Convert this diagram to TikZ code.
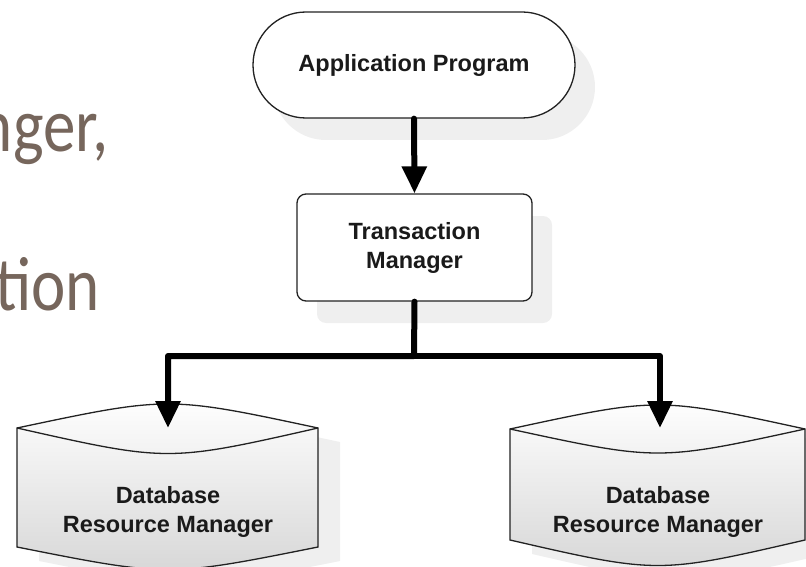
\documentclass[tikz,border=0pt]{standalone}
\usepackage{fontspec}
\setmainfont{Liberation Sans}
\newfontfamily\bgfont{Carlito}
\usetikzlibrary{arrows.meta,shadows}
\definecolor{txt}{HTML}{1A1A1A}
\definecolor{bgtext}{HTML}{76665C}
\definecolor{shadowgray}{HTML}{EFEFEF}
\definecolor{outline}{HTML}{222222}
\begin{document}
\begin{tikzpicture}[x=1pt,y=-1pt,
  lbl/.style={font=\fontsize{23.5}{29}\selectfont\bfseries, text=txt, align=center, inner sep=0pt},
  bgtxt/.style={font=\bgfont\fontsize{65}{70}\selectfont, text=bgtext, inner sep=0pt, anchor=base east},
  box/.style={draw=outline, line width=1.3pt, fill=white,
    drop shadow={shadow xshift=20pt, shadow yshift=-22pt, fill=shadowgray, opacity=1}},
  conn/.style={line width=6pt, line cap=round, line join=round, -{Triangle[width=24pt,length=27pt]}},
  cyl/.style={draw=outline, line width=1.3pt, top color=white, bottom color=black!16},
  cylshadow/.style={fill=shadowgray}
]
\useasboundingbox (0,0) rectangle (806,567);

% background slide text
\node[bgtxt] (bg1) at (109,152) {\scalebox{1}[1.18]{nger,}};
\node[bgtxt] (bg2) at (100,310) {\scalebox{1}[1.18]{tion}};

% Application program (terminator)
\node[box, rounded corners=53pt, minimum width=322pt, minimum height=106pt, inner sep=0pt] (app) at (414,65) {};
\node[lbl] (apptext) at (app.center) {Application Program};

% Transaction manager
\node[box, rounded corners=9pt, minimum width=235pt, minimum height=107pt, inner sep=0pt] (tm) at (414.5,247.5) {};
\node[lbl] (tmtext) at (tm.center) {Transaction\\Manager};

% Database cylinders (shadows)
\fill[cylshadow, shift={(22,14)}] (17,428) -- (17,547) .. controls (168,577) .. (318,547) -- (318,428) .. controls (168,396) .. (17,428) -- cycle;
\fill[cylshadow, shift={(22,14)}] (510,429) -- (510,540) .. controls (658,574) .. (805,540) -- (805,429) .. controls (658,397) .. (510,429) -- cycle;

% left cylinder
\path[cyl] (17,428) -- (17,547) .. controls (168,577) .. (318,547) -- (318,428) .. controls (168,396) .. (17,428) -- cycle;
\draw[draw=outline, line width=1.3pt] (17,428) .. controls (168,462) .. (318,428);
\node[lbl] (db1) at (168,512) {Database\\Resource Manager};
\coordinate (db1in) at (168,428);

% right cylinder
\path[cyl] (510,429) -- (510,540) .. controls (658,574) .. (805,540) -- (805,429) .. controls (658,397) .. (510,429) -- cycle;
\draw[draw=outline, line width=1.3pt] (510,429) .. controls (658,461) .. (805,429);
\node[lbl] (db2) at (658,512) {Database\\Resource Manager};
\coordinate (db2in) at (660,428);

% connectors
\coordinate (bus) at (414,356);
\draw[conn] (app.south) -- (tm.north);
\draw[conn] (tm.south) -- (bus) -| (db1in);
\draw[conn] (bus) -| (db2in);
\end{tikzpicture}
\end{document}
